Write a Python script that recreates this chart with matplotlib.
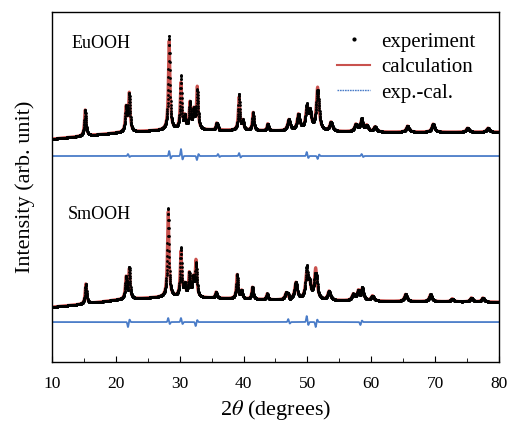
import numpy as np
import matplotlib
matplotlib.use('Agg')
from matplotlib import pyplot as plt
from matplotlib.ticker import MultipleLocator

plt.rcParams['font.family'] = ['Liberation Serif', 'DejaVu Serif']
plt.rcParams['mathtext.fontset'] = 'stix'

# --- values (y in plot units, baseline + peak heights) ---
# EuOOH (upper pattern)
eu_bg_pos = [10, 15, 20, 25, 28, 35, 45, 60, 80]
eu_bg_val = [223, 226, 229, 231, 232, 232, 231, 230, 230]
eu_peak_pos = [15.2, 21.6, 22.1, 28.35, 30.2, 30.8, 31.6, 32.2, 32.75, 35.8, 39.3, 39.9,
               41.5, 43.8, 47.1, 48.6, 49.9, 50.4, 51.6, 53.7, 57.6, 58.5, 59.3, 60.6,
               65.7, 69.7, 75.1, 78.3]
eu_peak_h = [26, 24, 38, 89, 46, 12, 26, 18, 42, 7, 33, 9,
             18, 7, 11, 16, 19, 17, 43, 9, 7, 11, 6, 5,
             6, 8, 4, 4]
eu_diff_level = 206
eu_res_pos = [21.9, 28.35, 30.2, 32.7, 36.0, 39.3, 49.9, 51.6, 58.5]
eu_res_amp = [2, 5, 7, -4, 2, 3, 4, -3, 2]

# SmOOH (lower pattern)
sm_bg_pos = [10, 15, 20, 25, 28, 35, 45, 60, 80]
sm_bg_val = [55, 58, 62, 64, 65, 64, 62, 61, 60]
sm_peak_pos = [15.3, 21.6, 22.1, 28.2, 30.2, 30.8, 31.5, 32.1, 32.55, 35.7, 39.0, 39.7,
               41.4, 43.7, 46.7, 48.2, 49.9, 50.3, 51.3, 53.4, 57.2, 58.0, 58.6, 60.2,
               65.4, 69.3, 72.7, 75.7, 77.5]
sm_peak_h = [20, 21, 29, 85, 45, 11, 23, 17, 36, 6, 24, 8,
             12, 6, 7, 17, 24, 14, 31, 9, 6, 9, 11, 5,
             7, 7, 3, 4, 4]
sm_diff_level = 40
sm_res_pos = [21.9, 28.2, 30.2, 32.5, 47.0, 49.9, 51.3, 58.3]
sm_res_amp = [-5, 4, 4, -4, 3, 6, -5, -3]

x_ticks = [10, 20, 30, 40, 50, 60, 70, 80]


def profile(x, pos, h, bg_pos, bg_val):
    y = np.interp(x, bg_pos, bg_val)
    for p, a in zip(pos, h):
        w = 0.15 if p < 45 else 0.25  # half width
        y = y + a / (1 + ((x - p) / w) ** 2)
    return y


def residual(x, pos, amp):
    r = np.zeros_like(x)
    for p, a in zip(pos, amp):
        r = r + a * np.exp(-((x - p) / 0.12) ** 2) - 0.5 * a * np.exp(-((x - p - 0.25) / 0.12) ** 2)
    return r


tt = np.arange(10, 80.001, 0.02)

eu_calc = profile(tt, eu_peak_pos, eu_peak_h, eu_bg_pos, eu_bg_val)
eu_res = residual(tt, eu_res_pos, eu_res_amp)
eu_exp = eu_calc + eu_res
sm_calc = profile(tt, sm_peak_pos, sm_peak_h, sm_bg_pos, sm_bg_val)
sm_res = residual(tt, sm_res_pos, sm_res_amp)
sm_exp = sm_calc + sm_res

red = '#c9524e'
blue = '#4a7cc8'

fig = plt.figure(figsize=(5.07, 4.21), dpi=100)
ax = fig.add_axes([0.1026, 0.140, 0.8814, 0.8315])

for calc, exp_, res, lev in [(eu_calc, eu_exp, eu_res, eu_diff_level),
                             (sm_calc, sm_exp, sm_res, sm_diff_level)]:
    ax.plot(tt, calc, color=red, lw=2.2, zorder=2)
    ax.plot(tt, exp_, '.', color='black', ms=4.0, mew=0, zorder=3)
    ax.plot(tt, lev + res, color=blue, lw=1.3, zorder=1)

# legend handles
ax.plot([], [], '.', color='black', ms=4, label='experiment')
ax.plot([], [], color=red, lw=1.5, label='calculation')
ax.plot([], [], color=blue, lw=1.0, ls=(0, (1.2, 0.6)), label='exp.-cal.')
ax.legend(loc='upper right', frameon=False, fontsize=15, handlelength=1.6,
          handletextpad=0.5, labelspacing=0.28, borderaxespad=0.4, bbox_to_anchor=(0.984, 0.99))

ax.text(13.1, 319, 'EuOOH', fontsize=13, va='center', ha='left')
ax.text(12.5, 148, 'SmOOH', fontsize=13, va='center', ha='left')

ax.set_xlim(10, 80)
ax.set_ylim(0, 350)
ax.set_xticks(x_ticks)
ax.xaxis.set_minor_locator(MultipleLocator(5))
ax.set_yticks([])
ax.tick_params(axis='x', which='major', direction='in', length=4.5, labelsize=12.5, pad=10)
ax.tick_params(axis='x', which='minor', direction='in', length=3)
ax.set_xlabel(r'2$\theta$ (degrees)', fontsize=16, labelpad=4)
ax.set_ylabel('Intensity (arb. unit)', fontsize=16, labelpad=12)
for s in ax.spines.values():
    s.set_linewidth(1.0)

fig.savefig('out.png', dpi=100)
